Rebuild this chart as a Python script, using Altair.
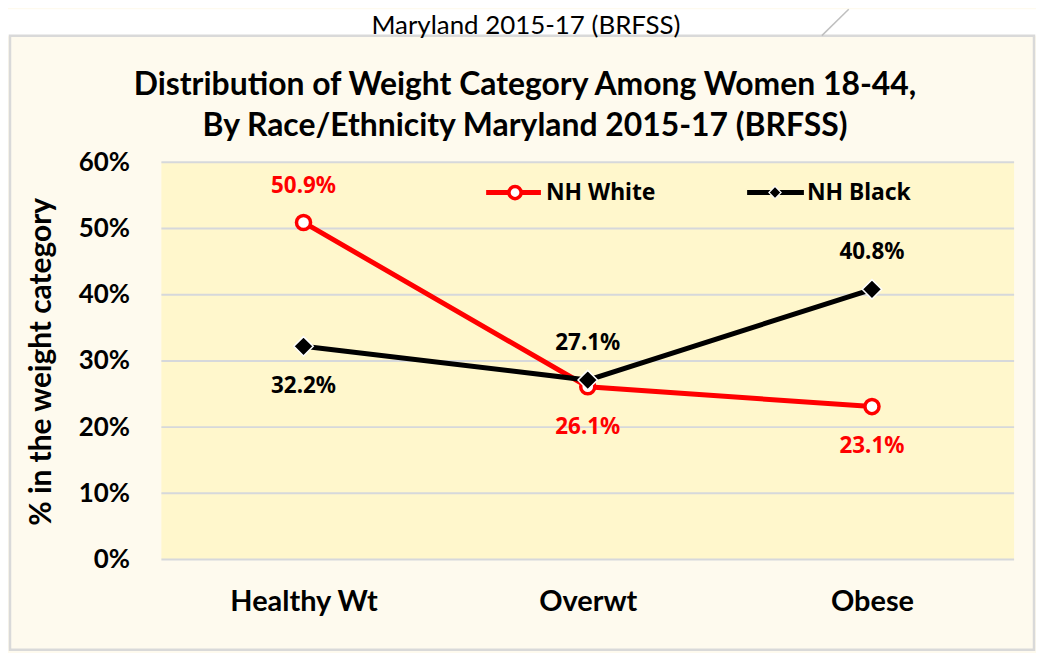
import altair as alt
import pandas as pd

categories = ["Healthy Wt", "Overwt", "Obese"]
series_names = ["NH White", "NH Black"]
white_vals = [50.9, 26.1, 23.1]
black_vals = [32.2, 27.1, 40.8]
white_label_pos = ["above", "below", "below"]
black_label_pos = ["below", "above", "above"]
y_ticks = [0, 10, 20, 30, 40, 50, 60]

top_title = "Maryland 2015-17 (BRFSS)"
title_lines = ["Distribution of Weight Category Among Women 18-44,",
               "By Race/Ethnicity Maryland 2015-17 (BRFSS)"]
y_title = "% in the weight category"

RED = "#FF0000"
W, H = 856, 399
PL, PT, PR, PB = 154, 153.5, 22, 92.5

white_df = pd.DataFrame({"cat": categories, "val": white_vals, "pos": white_label_pos})
black_df = pd.DataFrame({"cat": categories, "val": black_vals, "pos": black_label_pos})
grid_df = pd.DataFrame({"val": y_ticks})
one = pd.DataFrame({"a": [0]})


def xenc():
    return alt.X("cat:N", sort=categories,
                 scale=alt.Scale(type="point", domain=categories, padding=0.5),
                 axis=alt.Axis(title=None, domain=False, ticks=False, labelAngle=0,
                               labelFont="Lato", labelFontSize=29, labelFontWeight="bold",
                               labelColor="black", labelPadding=28))


def yenc():
    return alt.Y("val:Q", scale=alt.Scale(domain=[0, 60], nice=False, zero=True),
                 axis=alt.Axis(values=y_ticks, grid=False, domain=False, ticks=False,
                               labelExpr="datum.value + '%'",
                               labelFont="Lato", labelFontSize=26, labelFontWeight="bold",
                               labelColor="black", labelPadding=32,
                               title=y_title, titleFont="Lato", titleFontSize=30,
                               titleFontWeight="bold", titleColor="black",
                               titleX=-120, titleY=200, titleAlign="center",
                               titleBaseline="middle"))


# decorations
white_top = alt.Chart(one).mark_rect(color="white").encode(
    x=alt.value(-PL), x2=alt.value(W + PR), y=alt.value(-PT), y2=alt.value(-127))
border = alt.Chart(one).mark_rect(fillOpacity=0, stroke="#D9D9D9", strokeWidth=2.5).encode(
    x=alt.value(-152), x2=alt.value(W + 20), y=alt.value(-127), y2=alt.value(H + PB - 2))
diag = alt.Chart(one).mark_rule(color="#BFBFBF", strokeWidth=1.5).encode(
    x=alt.value(690), y=alt.value(-PT), x2=alt.value(663), y2=alt.value(-127))

grid = alt.Chart(grid_df).mark_rule(color="#D6D8DB", strokeWidth=2).encode(y=yenc())

white_line = alt.Chart(white_df).mark_line(color=RED, strokeWidth=5).encode(x=xenc(), y=yenc())
white_pts = alt.Chart(white_df).mark_point(shape="circle", filled=True, fill="white", stroke=RED,
                                           strokeWidth=3.5, size=200, opacity=1).encode(x=xenc(), y=yenc())
black_line = alt.Chart(black_df).mark_line(color="black", strokeWidth=5).encode(x=xenc(), y=yenc())
black_pts = alt.Chart(black_df).mark_point(shape="diamond", filled=True, fill="black", stroke="white",
                                           strokeWidth=1.5, size=380, opacity=1).encode(x=xenc(), y=yenc())


def labels(df, color, pos, dy):
    return alt.Chart(df).transform_filter(alt.datum.pos == pos).transform_calculate(
        lbl="format(datum.val, '.1f') + '%'"
    ).mark_text(font="Noto Sans", fontSize=22.5, fontWeight="bold", color=color,
                baseline="middle", align="center", dy=dy).encode(
        x=xenc(), y=yenc(), text="lbl:N")


lab_layers = [labels(white_df, RED, "above", -37), labels(white_df, RED, "below", 40),
              labels(black_df, "black", "above", -37), labels(black_df, "black", "below", 40)]

# legend
LY = 30.5
leg = [
    alt.Chart(one).mark_rule(color=RED, strokeWidth=5).encode(
        x=alt.value(326), x2=alt.value(381), y=alt.value(LY)),
    alt.Chart(one).mark_point(shape="circle", filled=True, fill="white", stroke=RED,
                              strokeWidth=3.5, size=150, opacity=1).encode(
        x=alt.value(355), y=alt.value(LY)),
    alt.Chart(one).mark_text(font="Noto Sans", fontSize=23, fontWeight="bold", color="black",
                             align="left", baseline="middle").encode(
        x=alt.value(386), y=alt.value(LY), text=alt.value(series_names[0])),
    alt.Chart(one).mark_rule(color="black", strokeWidth=5).encode(
        x=alt.value(588), x2=alt.value(645), y=alt.value(LY)),
    alt.Chart(one).mark_point(shape="diamond", filled=True, fill="black", stroke="white",
                              strokeWidth=1.2, size=150, opacity=1).encode(
        x=alt.value(616), y=alt.value(LY)),
    alt.Chart(one).mark_text(font="Noto Sans", fontSize=23, fontWeight="bold", color="black",
                             align="left", baseline="middle").encode(
        x=alt.value(648), y=alt.value(LY), text=alt.value(series_names[1])),
]

titles = [
    alt.Chart(one).mark_text(font="Lato", fontSize=26, color="black",
                             align="center", baseline="middle").encode(
        x=alt.value(366), y=alt.value(-137), text=alt.value(top_title)),
    alt.Chart(one).mark_text(font="Lato", fontSize=32, fontWeight="bold", color="black",
                             align="center", baseline="middle").encode(
        x=alt.value(365), y=alt.value(-77.5), text=alt.value(title_lines[0])),
    alt.Chart(one).mark_text(font="Lato", fontSize=32, fontWeight="bold", color="black",
                             align="center", baseline="middle").encode(
        x=alt.value(365), y=alt.value(-36.5), text=alt.value(title_lines[1])),
]

chart = alt.layer(
    white_top, border, diag, grid, white_line, white_pts, black_line, black_pts,
    *lab_layers, *leg, *titles
).properties(
    width=W, height=H,
    autosize=alt.AutoSizeParams(type="none"),
    padding={"left": PL, "top": PT, "right": PR, "bottom": PB},
    background="#FEFAEE",
).configure_view(fill="#FFF7CC", strokeWidth=0)

chart.save("out.html", embed_options={"renderer": "svg", "actions": False})
